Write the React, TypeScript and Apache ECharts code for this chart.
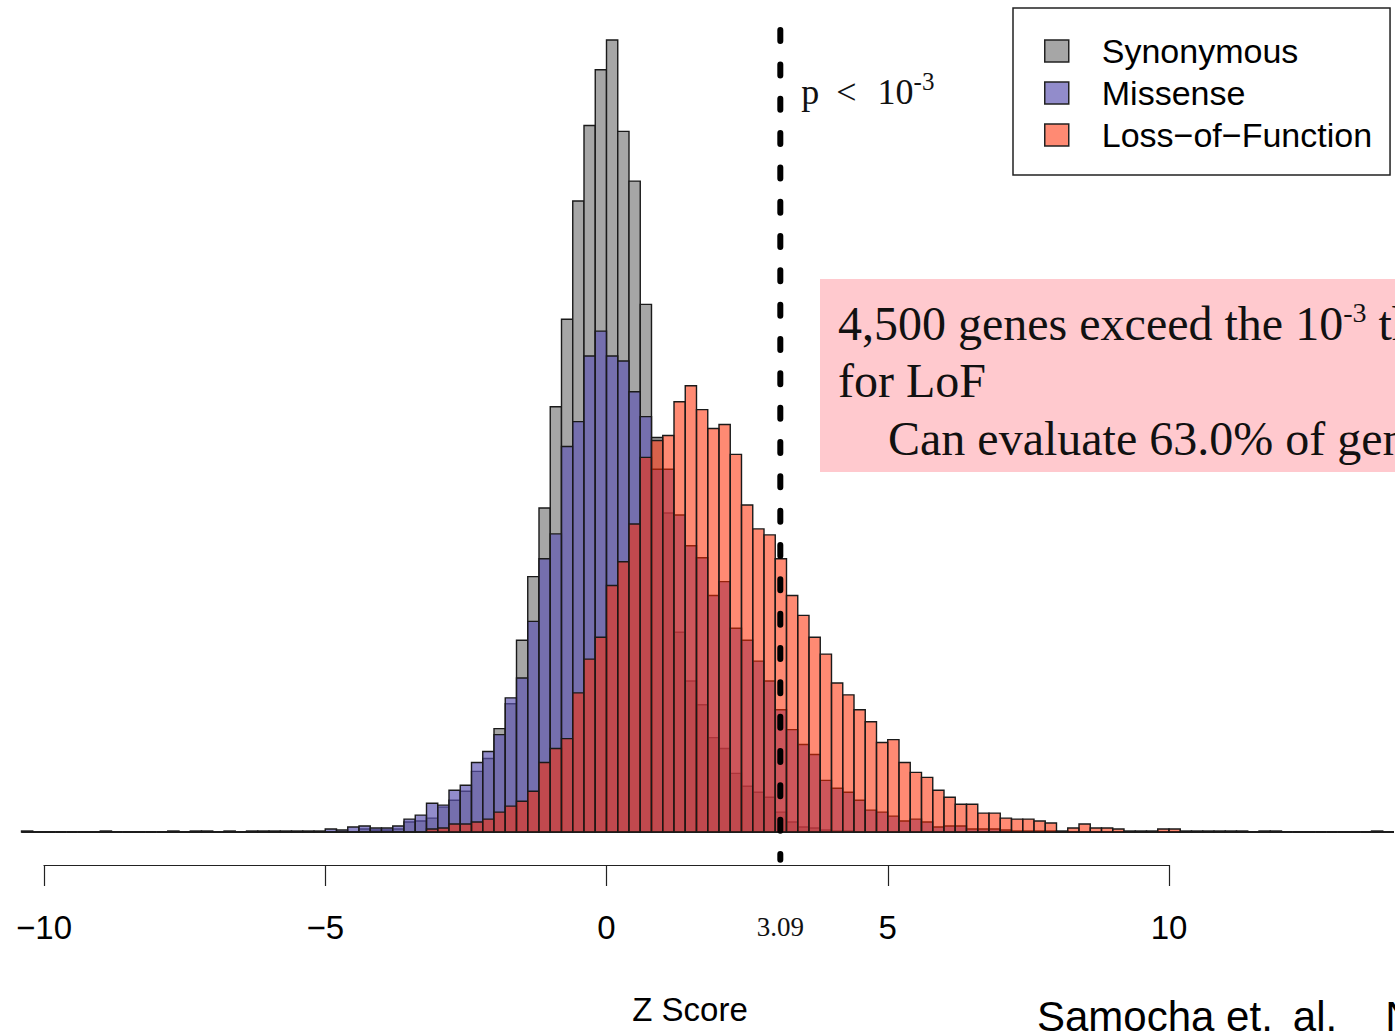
import React, { useEffect, useRef } from "react";
import * as echarts from "echarts";

// Histogram bins: left edge of first bin and bin width (Z score units)
const BIN_START = -10.4;
const BIN_WIDTH = 0.2;

// Bin heights (arbitrary count units), bins from -10.4 to 14.0
const synonymous = [
  0, 0, 0, 0, 0, 0, 0, 0, 0, 0,
  0, 0, 0, 0, 0, 0, 0, 0, 0, 0,
  0, 0, 0, 0, 0, 0, 0, 0, 0, 0,
  3, 2, 2, 3, 10, 11, 14, 25, 32, 41,
  61, 74, 104, 129, 193, 257, 326, 428, 516, 635,
  711, 767, 797, 705, 655, 531, 397, 321, 201, 152,
  128, 95, 84, 59, 46, 40, 35, 20, 10, 5,
  4, 2, 1, 1, 0, 0, 0, 0, 0, 0,
  0, 0, 0, 0, 0, 0, 0, 0, 0, 0,
  0, 0, 0, 0, 0, 0, 0, 0, 0, 0,
  0, 0, 0, 0, 0, 0, 0, 0, 0, 0,
  0, 0, 0, 0, 0, 0, 0, 0, 0, 0,
  0, 0,
];

const missense = [
  1, 0, 0, 0, 0, 0, 0, 1, 0, 0,
  0, 0, 0, 1, 0, 1, 1, 0, 1, 0,
  1, 1, 1, 1, 1, 1, 1, 3, 2, 5,
  6, 4, 4, 6, 13, 17, 29, 27, 42, 47,
  70, 81, 98, 135, 155, 212, 275, 300, 388, 413,
  479, 504, 479, 474, 443, 418, 365, 365, 319, 288,
  276, 238, 252, 205, 193, 172, 152, 123, 103, 88,
  78, 52, 44, 40, 32, 22, 20, 16, 11, 13,
  10, 5, 6, 6, 3, 3, 3, 2, 1, 1,
  1, 1, 0, 0, 0, 0, 0, 0, 0, 0,
  0, 0, 0, 0, 0, 0, 0, 0, 0, 0,
  0, 0, 0, 0, 0, 0, 0, 0, 0, 0,
  0, 0,
];

const lossOfFunction = [
  0, 0, 0, 0, 0, 0, 0, 0, 0, 0,
  0, 0, 0, 0, 0, 0, 0, 0, 0, 0,
  0, 0, 0, 0, 0, 0, 0, 0, 0, 0,
  0, 0, 0, 0, 0, 0, 3, 4, 8, 8,
  10, 13, 20, 26, 31, 41, 70, 84, 94, 140,
  174, 196, 248, 272, 310, 377, 394, 399, 433, 449,
  425, 406, 410, 380, 329, 305, 299, 275, 238, 218,
  196, 179, 150, 138, 123, 111, 90, 93, 70, 60,
  55, 42, 35, 28, 28, 19, 19, 14, 13, 13,
  11, 9, 1, 4, 8, 4, 4, 3, 1, 1,
  1, 3, 3, 1, 1, 1, 1, 1, 1, 0,
  1, 1, 0, 0, 0, 0, 0, 0, 0, 0,
  1, 0,
];

const seriesNames = ["Synonymous", "Missense", "Loss\u2212of\u2212Function"];
const seriesColors = ["#A6A6A6", "rgba(92,84,178,0.67)", "rgba(255,42,0,0.55)"];

const X_MIN = -10;
const X_MAX = 10;
const X_INTERVAL = 5;
const Y_MAX = 797;

const THRESHOLD = 3.09;
const THRESHOLD_LABEL = "3.09";
// threshold line extent in y units (extends slightly below the bars' baseline)
const THRESHOLD_LINE_Y = [807, -28];

const boxLines = [
  "4,500 genes exceed the 10",
  "for LoF",
  "Can evaluate 63.0% of genes",
];

function toBins(values: number[]) {
  return values.map((h, i) => [
    BIN_START + i * BIN_WIDTH,
    BIN_START + (i + 1) * BIN_WIDTH,
    h,
  ]);
}

function histSeries(name: string, color: string, values: number[], z: number) {
  return {
    type: "custom",
    name,
    z,
    itemStyle: { color, borderColor: "#1a1a1a", borderWidth: 1.4 },
    encode: { x: [0, 1], y: 2 },
    data: toBins(values),
    renderItem: (_params: any, api: any) => {
      const x0 = api.value(0);
      const x1 = api.value(1);
      const h = api.value(2);
      const p0 = api.coord([x0, h]);
      const p1 = api.coord([x1, 0]);
      return {
        type: "rect",
        shape: {
          x: p0[0],
          y: p0[1],
          width: p1[0] - p0[0],
          height: p1[1] - p0[1],
        },
        style: { fill: color, stroke: "#1a1a1a", lineWidth: 1.4 },
      };
    },
  };
}

export default function App() {
  const ref = useRef<HTMLDivElement>(null);

  useEffect(() => {
    if (!ref.current) return;
    const chart = echarts.init(ref.current, null, { renderer: "svg" });
    const option: any = {
      animation: false,
      backgroundColor: "#ffffff",
      grid: { left: 44, right: 226, top: 40, bottom: 194 },
      legend: {
        orient: "vertical",
        left: 1013,
        top: 8,
        padding: [26, 18, 23, 31],
        itemWidth: 24,
        itemHeight: 22,
        itemGap: 8,
        borderColor: "#222",
        borderWidth: 1.5,
        backgroundColor: "#ffffff",
        selectedMode: false,
        icon: "rect",
        itemStyle: { borderColor: "#222", borderWidth: 1.5 },
        textStyle: {
          fontSize: 34,
          fontFamily: "Liberation Sans",
          color: "#000",
          padding: [0, 0, 0, 28],
        },
        data: seriesNames,
      },
      xAxis: {
        type: "value",
        min: X_MIN,
        max: X_MAX,
        interval: X_INTERVAL,
        offset: 33,
        name: "Z Score",
        nameLocation: "middle",
        nameGap: 128,
        nameTextStyle: {
          fontSize: 33,
          fontFamily: "Liberation Sans",
          color: "#000",
          padding: [0, 0, 0, 167],
        },
        axisLine: { show: true, onZero: false, lineStyle: { color: "#222", width: 1.2 } },
        axisTick: { show: true, length: 21, lineStyle: { color: "#222", width: 1.2 } },
        axisLabel: {
          margin: 46,
          fontSize: 33,
          fontFamily: "Liberation Sans",
          color: "#000",
          formatter: (v: number) => String(v).replace("-", "\u2212"),
        },
        splitLine: { show: false },
      },
      yAxis: {
        type: "value",
        min: 0,
        max: Y_MAX,
        show: false,
        splitLine: { show: false },
      },
      series: [
        histSeries(seriesNames[0], seriesColors[0], synonymous, 2),
        histSeries(seriesNames[1], seriesColors[1], missense, 3),
        histSeries(seriesNames[2], seriesColors[2], lossOfFunction, 4),
        {
          type: "line",
          name: "threshold",
          z: 10,
          clip: false,
          symbol: "none",
          silent: true,
          lineStyle: { color: "#000", width: 6, type: [11, 23.33], cap: "round" },
          data: [
            [THRESHOLD, THRESHOLD_LINE_Y[0]],
            [THRESHOLD, THRESHOLD_LINE_Y[1]],
          ],
        },
      ],
    };
    chart.setOption(option);

    const top = chart.convertToPixel({ gridIndex: 0 }, [THRESHOLD, THRESHOLD_LINE_Y[0]]) as number[];
    const axisY = chart.convertToPixel({ gridIndex: 0 }, [THRESHOLD, 0]) as number[];
    const serif = "Liberation Serif";

    chart.setOption({
      graphic: [
        {
          type: "text",
          x: top[0],
          y: axisY[1] + 95,
          style: {
            text: THRESHOLD_LABEL,
            fontSize: 27,
            fontFamily: serif,
            fill: "#111",
            align: "center",
            verticalAlign: "middle",
          },
        },
        {
          type: "text",
          x: top[0] + 21,
          y: 92,
          style: {
            text: "{m|p}{o|<}{m|10}{s|-3}",
            verticalAlign: "middle",
            rich: {
              m: { fontSize: 36, fontFamily: serif, fill: "#111" },
              o: { fontSize: 36, fontFamily: serif, fill: "#111", padding: [0, 21, 0, 17] },
              s: { fontSize: 25, fontFamily: serif, fill: "#111", padding: [0, 0, 22, 0] },
            },
          },
        },
        {
          type: "rect",
          shape: { x: 820, y: 279, width: 700, height: 193 },
          style: { fill: "#FFC9CE" },
          z: 1,
        },
        {
          type: "text",
          x: 838,
          y: 323,
          z: 2,
          style: {
            text: "{t|" + boxLines[0] + "}{s|-3}{t| threshold}",
            verticalAlign: "middle",
            rich: {
              t: { fontSize: 48, fontFamily: serif, fill: "#111" },
              s: { fontSize: 28, fontFamily: serif, fill: "#111", padding: [0, 0, 22, 0] },
            },
          },
        },
        {
          type: "text",
          x: 838,
          y: 380,
          z: 2,
          style: {
            text: boxLines[1],
            fontSize: 48,
            fontFamily: serif,
            fill: "#111",
            verticalAlign: "middle",
          },
        },
        {
          type: "text",
          x: 888,
          y: 438,
          z: 2,
          style: {
            text: boxLines[2],
            fontSize: 48,
            fontFamily: serif,
            fill: "#111",
            verticalAlign: "middle",
          },
        },
        {
          type: "text",
          x: 1037,
          y: 1016,
          style: {
            text: "{a|Samocha et.}{b|al.}{c|Nature Genetics 2014}",
            verticalAlign: "middle",
            rich: {
              a: { fontSize: 42, fontFamily: "Liberation Sans", fill: "#000" },
              b: { fontSize: 42, fontFamily: "Liberation Sans", fill: "#000", padding: [0, 0, 0, 20] },
              c: { fontSize: 42, fontFamily: "Liberation Sans", fill: "#000", padding: [0, 0, 0, 48] },
            },
          },
        },
      ],
    });

    return () => chart.dispose();
  }, []);

  return (
    <div
      ref={ref}
      style={{
        position: "fixed",
        left: 0,
        top: 0,
        width: 1395,
        height: 1031,
        background: "#fff",
      }}
    />
  );
}
